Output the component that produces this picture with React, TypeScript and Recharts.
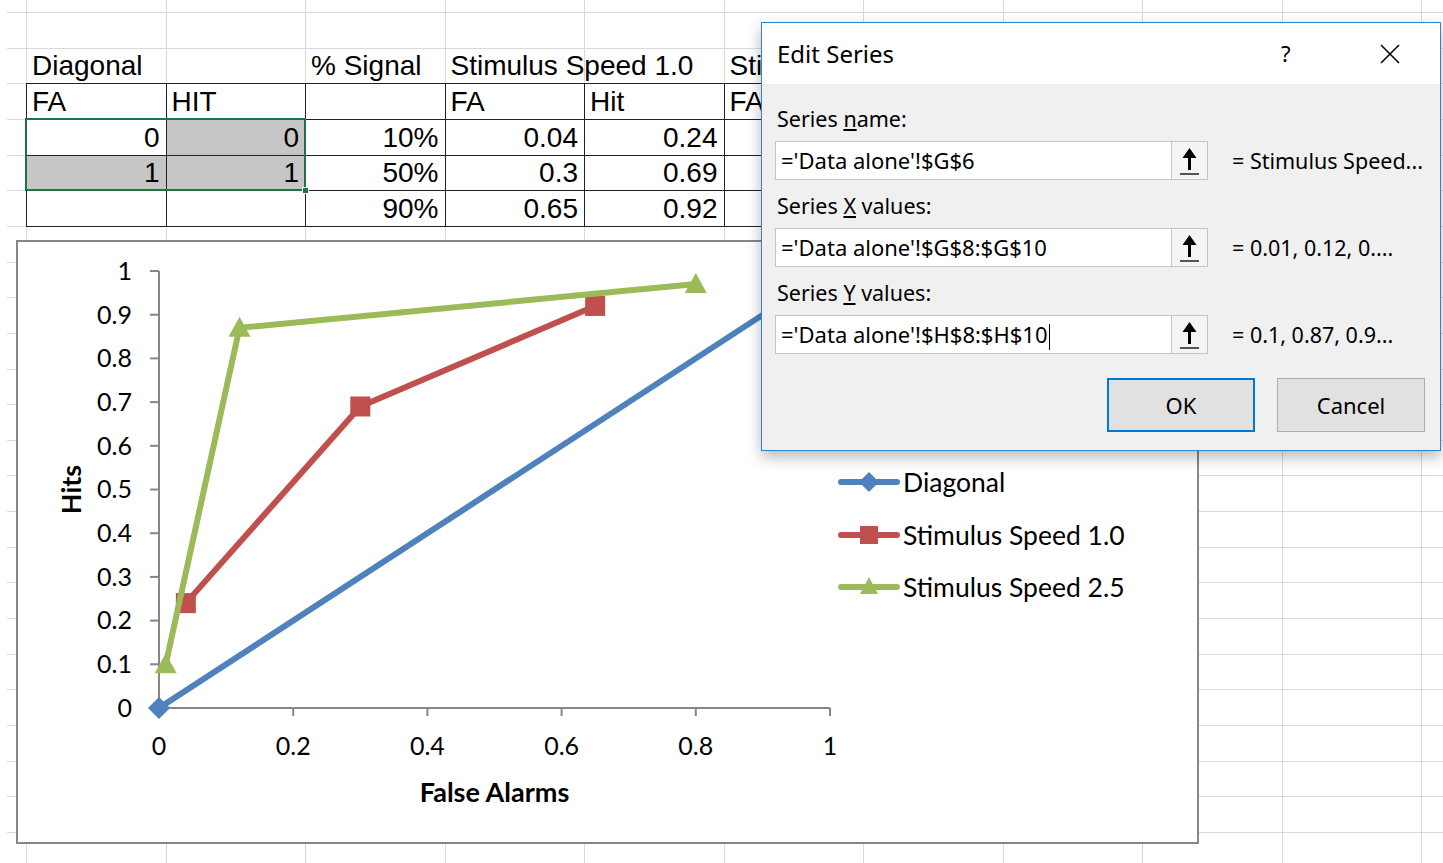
import React from "react";
import { ScatterChart, Scatter, XAxis, YAxis, Label, Legend } from "recharts";

const diagonalFA = [0, 1];
const diagonalHit = [0, 1];
const signalLevels = ["10%", "50%", "90%"];
const speed10FA = [0.04, 0.3, 0.65];
const speed10Hit = [0.24, 0.69, 0.92];
const speed25FA = [0.01, 0.12, 0.8];
const speed25Hit = [0.1, 0.87, 0.97];
const seriesNames = ["Diagonal", "Stimulus Speed 1.0", "Stimulus Speed 2.5"];
const xTicks = [0, 0.2, 0.4, 0.6, 0.8, 1];
const yTicks = [0, 0.1, 0.2, 0.3, 0.4, 0.5, 0.6, 0.7, 0.8, 0.9, 1];

const BLUE = "#4f81bd";
const RED = "#c0504d";
const GREEN = "#9bbb59";
const AXIS = "#868686";
const CHART_FONT = "Lato, 'Noto Sans', sans-serif";
const UI_FONT = "'Noto Sans', 'Open Sans', sans-serif";
const CELL_FONT = "'Liberation Sans', Arial, sans-serif";

// spreadsheet grid
const COL_X = Array.from({ length: 11 }, (_, i) => 26 + i * 139.5);
const ROW_Y = Array.from({ length: 25 }, (_, i) => 12 + i * 35.65);
const DIALOG_LEFT = 761;

const toPoints = (xs: number[], ys: number[]) => xs.map((x, i) => ({ x, y: ys[i] }));

const diamond = (p: any) => (
  <path
    d={`M${p.cx},${p.cy - 11}L${p.cx + 11},${p.cy}L${p.cx},${p.cy + 11}L${p.cx - 11},${p.cy}Z`}
    fill={BLUE}
  />
);
const square = (p: any) => <rect x={p.cx - 10} y={p.cy - 10} width={20} height={20} fill={RED} />;
const triangle = (p: any) => (
  <path d={`M${p.cx},${p.cy - 11}L${p.cx + 11},${p.cy + 9}L${p.cx - 11},${p.cy + 9}Z`} fill={GREEN} />
);

function LegendIcon({ index }: { index: number }) {
  const color = [BLUE, RED, GREEN][index];
  return (
    <svg width={62} height={30}>
      <line x1={3} y1={15} x2={59} y2={15} stroke={color} strokeWidth={6} strokeLinecap="round" />
      {index === 0 && <path d="M31,5L41,15L31,25L21,15Z" fill={color} />}
      {index === 1 && <rect x={22} y={6} width={18} height={18} fill={color} />}
      {index === 2 && <path d="M31,5L40,22L22,22Z" fill={color} />}
    </svg>
  );
}

function ChartLegend() {
  return (
    <div>
      {seriesNames.map((name, i) => (
        <div key={name} style={{ display: "flex", alignItems: "center", height: 52.5 }}>
          <LegendIcon index={i} />
          <span style={{ fontFamily: CHART_FONT, fontSize: 26.5, color: "#000", marginLeft: 3, whiteSpace: "nowrap" }}>
            {name}
          </span>
        </div>
      ))}
    </div>
  );
}

function RocChart() {
  return (
    <ScatterChart width={1179} height={600} margin={{ top: 29, right: 367, bottom: 0, left: 0 }}>
      <XAxis
        type="number"
        dataKey="x"
        domain={[0, 1]}
        ticks={xTicks}
        height={134}
        tickSize={8}
        tickMargin={21}
        axisLine={{ stroke: AXIS, strokeWidth: 2 }}
        tickLine={{ stroke: AXIS, strokeWidth: 2 }}
        tick={{ fill: "#000", fontSize: 25, fontFamily: CHART_FONT }}
      >
        <Label
          content={(props: any) => {
            const vb = props.viewBox;
            return (
              <text
                x={vb.x + vb.width / 2}
                y={vb.y + 83}
                textAnchor="middle"
                dominantBaseline="central"
                fontFamily={CHART_FONT}
                fontWeight={700}
                fontSize={27}
                fill="#000"
              >
                False Alarms
              </text>
            );
          }}
        />
      </XAxis>
      <YAxis
        type="number"
        dataKey="y"
        domain={[0, 1]}
        ticks={yTicks}
        width={141}
        tickSize={9}
        tickMargin={18}
        axisLine={{ stroke: AXIS, strokeWidth: 2 }}
        tickLine={{ stroke: AXIS, strokeWidth: 2 }}
        tick={{ fill: "#000", fontSize: 25, fontFamily: CHART_FONT }}
      >
        <Label
          content={(props: any) => {
            const vb = props.viewBox;
            const cy = vb.y + vb.height / 2;
            return (
              <text
                x={52}
                y={cy}
                transform={`rotate(-90 52 ${cy})`}
                textAnchor="middle"
                dominantBaseline="central"
                fontFamily={CHART_FONT}
                fontWeight={700}
                fontSize={27}
                fill="#000"
              >
                Hits
              </text>
            );
          }}
        />
      </YAxis>
      <Legend
        layout="vertical"
        align="center"
        verticalAlign="middle"
        wrapperStyle={{ left: 820, top: 214, width: "auto" }}
        content={() => <ChartLegend />}
      />
      <Scatter
        name={seriesNames[0]}
        data={toPoints(diagonalFA, diagonalHit)}
        fill={BLUE}
        line={{ stroke: BLUE, strokeWidth: 6 }}
        shape={diamond}
        isAnimationActive={false}
      />
      <Scatter
        name={seriesNames[1]}
        data={toPoints(speed10FA, speed10Hit)}
        fill={RED}
        line={{ stroke: RED, strokeWidth: 6 }}
        shape={square}
        isAnimationActive={false}
      />
      <Scatter
        name={seriesNames[2]}
        data={toPoints(speed25FA, speed25Hit)}
        fill={GREEN}
        line={{ stroke: GREEN, strokeWidth: 6 }}
        shape={triangle}
        isAnimationActive={false}
      />
    </ScatterChart>
  );
}

function SheetCell({ col, row, text, right }: { col: number; row: number; text: string; right?: boolean }) {
  const x = COL_X[col];
  // the column under the dialog gets cut at its left edge
  const clip = x + 139.5 > DIALOG_LEFT;
  return (
    <div
      style={{
        position: "absolute",
        left: right ? x : x + 6,
        width: right ? 139.5 - 6 : clip ? DIALOG_LEFT - (x + 6) : undefined,
        overflow: clip ? "hidden" : undefined,
        top: ROW_Y[row + 1] - 31,
        height: 34,
        lineHeight: "28px",
        fontSize: 28,
        fontFamily: CELL_FONT,
        color: "#000",
        textAlign: right ? "right" : "left",
        whiteSpace: "nowrap",
      }}
    >
      {text}
    </div>
  );
}

function Sheet() {
  const cells: { col: number; row: number; text: string; right?: boolean }[] = [
    { col: 0, row: 1, text: "Diagonal" },
    { col: 2, row: 1, text: "% Signal" },
    { col: 3, row: 1, text: seriesNames[1] },
    { col: 5, row: 1, text: seriesNames[2] },
    { col: 0, row: 2, text: "FA" },
    { col: 1, row: 2, text: "HIT" },
    { col: 3, row: 2, text: "FA" },
    { col: 4, row: 2, text: "Hit" },
    { col: 5, row: 2, text: "FA" },
  ];
  diagonalFA.forEach((v, i) => cells.push({ col: 0, row: 3 + i, text: String(v), right: true }));
  diagonalHit.forEach((v, i) => cells.push({ col: 1, row: 3 + i, text: String(v), right: true }));
  signalLevels.forEach((v, i) => cells.push({ col: 2, row: 3 + i, text: v, right: true }));
  speed10FA.forEach((v, i) => cells.push({ col: 3, row: 3 + i, text: String(v), right: true }));
  speed10Hit.forEach((v, i) => cells.push({ col: 4, row: 3 + i, text: String(v), right: true }));

  const shaded = [
    [1, 3],
    [0, 4],
    [1, 4],
  ];

  return (
    <>
      {ROW_Y.map((y) => (
        <div key={"h" + y} style={{ position: "absolute", left: 7, right: 0, top: y, height: 1, background: "#dadada" }} />
      ))}
      {COL_X.map((x) => (
        <div key={"v" + x} style={{ position: "absolute", top: 0, bottom: 0, left: x, width: 1, background: "#dadada" }} />
      ))}
      {shaded.map(([c, r]) => (
        <div
          key={"s" + c + r}
          style={{
            position: "absolute",
            left: COL_X[c],
            top: ROW_Y[r],
            width: 139.5,
            height: 35.65,
            background: "#c6c6c6",
          }}
        />
      ))}
      {[2, 3, 4, 5, 6].map((r) => (
        <div
          key={"dh" + r}
          style={{ position: "absolute", left: COL_X[0], width: DIALOG_LEFT - COL_X[0], top: ROW_Y[r], height: 1, background: "#222" }}
        />
      ))}
      {[0, 1, 2, 3, 4, 5].map((c) => (
        <div
          key={"dv" + c}
          style={{ position: "absolute", left: COL_X[c], top: ROW_Y[2], height: ROW_Y[6] - ROW_Y[2], width: 1, background: "#222" }}
        />
      ))}
      {cells.map((c, i) => (
        <SheetCell key={i} {...c} />
      ))}
      <div
        style={{
          position: "absolute",
          left: COL_X[0] - 1,
          top: ROW_Y[3] - 1,
          width: COL_X[2] - COL_X[0] + 2,
          height: ROW_Y[5] - ROW_Y[3] + 2,
          border: "2px solid #217346",
          boxSizing: "border-box",
        }}
      />
      <div
        style={{
          position: "absolute",
          left: COL_X[2] - 3,
          top: ROW_Y[5] - 3,
          width: 7,
          height: 7,
          background: "#217346",
          border: "1px solid #fff",
          boxSizing: "border-box",
        }}
      />
    </>
  );
}

function RefBox({ top, text, caret }: { top: number; text: string; caret?: boolean }) {
  return (
    <div
      style={{
        position: "absolute",
        left: 13,
        top,
        width: 433,
        height: 39,
        background: "#fff",
        border: "1px solid #c4c4c4",
        boxSizing: "border-box",
      }}
    >
      <div
        style={{
          position: "absolute",
          left: 5,
          top: 0,
          height: 37,
          lineHeight: "37px",
          fontSize: 22,
          fontFamily: UI_FONT,
          color: "#000",
          whiteSpace: "nowrap",
        }}
      >
        {text}
        {caret && <span style={{ display: "inline-block", width: 1, height: 26, background: "#000", verticalAlign: "middle", marginLeft: 1 }} />}
      </div>
      <div
        style={{
          position: "absolute",
          right: 0,
          top: 0,
          width: 36,
          height: 37,
          background: "#f4f4f4",
          borderLeft: "1px solid #c4c4c4",
          boxSizing: "border-box",
        }}
      >
        <svg width={35} height={37} style={{ position: "absolute", left: 0, top: 0 }}>
          <line x1={17.5} y1={8} x2={17.5} y2={28} stroke="#000" strokeWidth={3} />
          <path d="M10.5,16L17.5,6L24.5,16Z" fill="#000" />
          <line x1={8} y1={32} x2={27} y2={32} stroke="#555" strokeWidth={2} />
        </svg>
      </div>
    </div>
  );
}

function EditSeriesDialog() {
  const label = (top: number, before: string, key: string, after: string) => (
    <div
      style={{
        position: "absolute",
        left: 15,
        top,
        height: 30,
        lineHeight: "30px",
        fontSize: 21.5,
        fontFamily: UI_FONT,
        color: "#000",
        whiteSpace: "nowrap",
      }}
    >
      {before}
      <span style={{ textDecoration: "underline" }}>{key}</span>
      {after}
    </div>
  );
  const preview = (top: number, text: string) => (
    <div
      style={{
        position: "absolute",
        left: 470,
        top,
        height: 39,
        lineHeight: "39px",
        fontSize: 21.5,
        fontFamily: UI_FONT,
        color: "#000",
        whiteSpace: "nowrap",
      }}
    >
      {text}
    </div>
  );
  const button = (left: number, text: string, primary: boolean) => (
    <div
      style={{
        position: "absolute",
        left,
        top: 355,
        width: 148,
        height: 54,
        background: "#e1e1e1",
        border: primary ? "2px solid #0078d7" : "1px solid #adadad",
        boxSizing: "border-box",
        display: "flex",
        alignItems: "center",
        justifyContent: "center",
        fontSize: 22,
        fontFamily: UI_FONT,
        color: "#000",
      }}
    >
      {text}
    </div>
  );

  return (
    <div
      style={{
        position: "absolute",
        left: DIALOG_LEFT,
        top: 22,
        width: 680,
        height: 429,
        background: "#f0f0f0",
        border: "1px solid #2b84d8",
        boxSizing: "border-box",
        boxShadow: "0 6px 14px rgba(0,0,0,0.28)",
        zIndex: 5,
      }}
    >
      <div style={{ position: "absolute", left: 0, top: 0, right: 0, height: 61, background: "#fff" }} />
      <div style={{ position: "absolute", left: 15, top: 15, fontSize: 24, fontFamily: UI_FONT, lineHeight: "32px", color: "#000" }}>
        Edit Series
      </div>
      <div style={{ position: "absolute", left: 519, top: 14, fontSize: 22, fontFamily: UI_FONT, lineHeight: "32px", color: "#000" }}>?</div>
      <svg width={22} height={22} style={{ position: "absolute", left: 617, top: 20 }}>
        <line x1={2} y1={2} x2={20} y2={20} stroke="#000" strokeWidth={1.6} />
        <line x1={20} y1={2} x2={2} y2={20} stroke="#000" strokeWidth={1.6} />
      </svg>
      {label(81, "Series ", "n", "ame:")}
      <RefBox top={118} text="='Data alone'!$G$6" />
      {preview(118, "= Stimulus Speed...")}
      {label(168, "Series ", "X", " values:")}
      <RefBox top={205} text="='Data alone'!$G$8:$G$10" />
      {preview(205, "= 0.01, 0.12, 0....")}
      {label(255, "Series ", "Y", " values:")}
      <RefBox top={292} text="='Data alone'!$H$8:$H$10" caret />
      {preview(292, "= 0.1, 0.87, 0.9...")}
      {button(345, "OK", true)}
      {button(515, "Cancel", false)}
    </div>
  );
}

export default function App() {
  return (
    <div style={{ position: "absolute", left: 0, top: 0, width: 1443, height: 863, overflow: "hidden", background: "#fff" }}>
      <Sheet />
      <div
        style={{
          position: "absolute",
          left: 16,
          top: 240,
          width: 1183,
          height: 604,
          border: "2px solid #878787",
          background: "#fff",
          boxSizing: "border-box",
          zIndex: 2,
        }}
      >
        <RocChart />
      </div>
      <EditSeriesDialog />
    </div>
  );
}
